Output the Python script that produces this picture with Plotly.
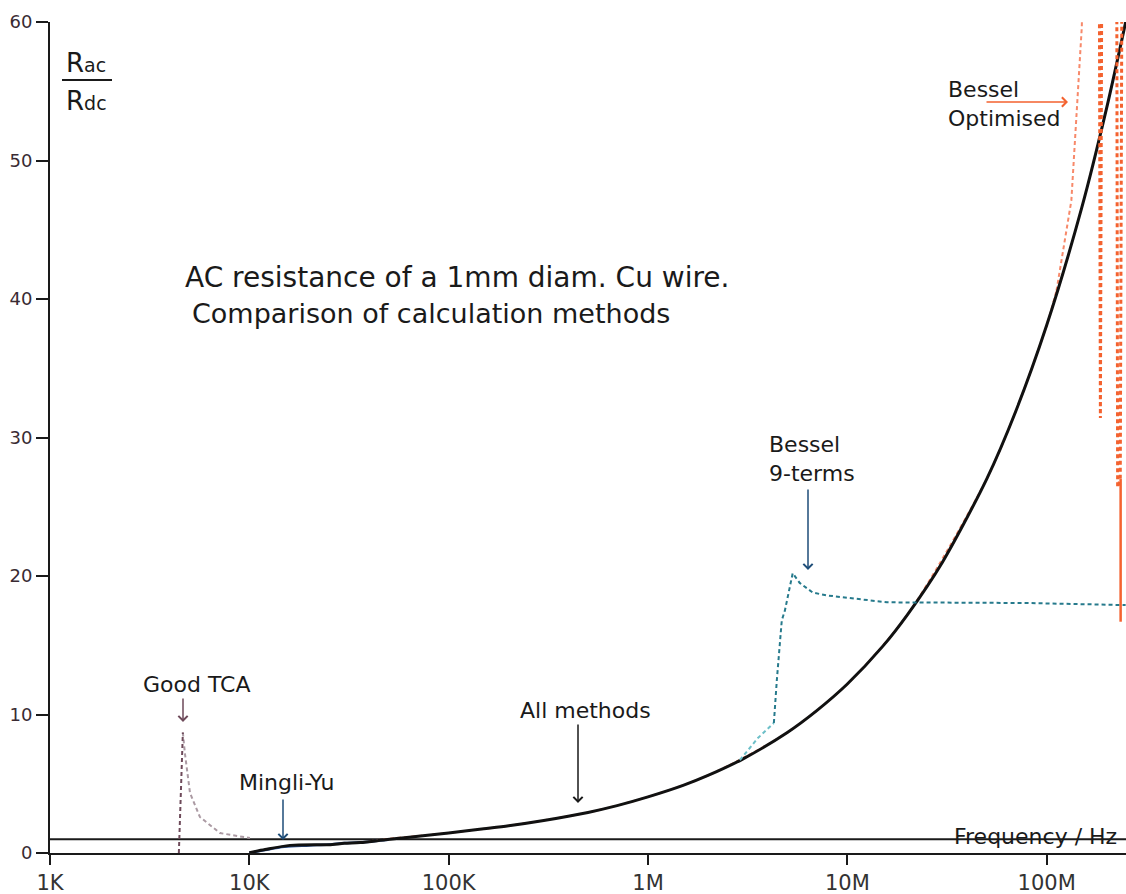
import plotly.graph_objects as go

# ---- data: frequency in Hz, resistance ratio Rac/Rdc ----
ref_freq = [1e3, 260e6]
ref_ratio = [1.0, 1.0]

exact_freq = [10e3, 12e3, 16e3, 25e3, 30e3, 36e3, 48e3, 60e3, 100e3, 150e3, 200e3, 300e3,
              500e3, 700e3, 1e6, 1.5e6, 2e6, 3e6, 5e6, 7e6, 10e6, 15e6, 20e6, 30e6,
              50e6, 70e6, 100e6, 150e6, 200e6, 250e6]
exact_ratio = [0.02, 0.25, 0.55, 0.6, 0.7, 0.75, 0.95, 1.1, 1.45, 1.75, 1.97, 2.35,
               2.93, 3.42, 4.05, 4.88, 5.6, 6.8, 8.7, 10.26, 12.2, 14.9, 17.2, 21.0,
               27.0, 31.9, 38.1, 46.6, 53.8, 60.1]

mingli_freq = [10e3, 12e3, 15e3, 20e3, 25e3, 30e3, 40e3, 50e3]
mingli_ratio = [0.0, 0.22, 0.45, 0.55, 0.62, 0.72, 0.82, 0.95]

tca_rise_freq = [4.43e3, 4.64e3]
tca_rise_ratio = [0.0, 8.7]
tca_decay_freq = [4.64e3, 4.75e3, 5.04e3, 5.65e3, 7.12e3, 10.07e3]
tca_decay_ratio = [8.7, 7.2, 4.33, 2.6, 1.44, 1.08]

b9_low_freq = [2.89e6, 3.56e6, 4.28e6]
b9_low_ratio = [6.71, 8.3, 9.39]
b9_freq = [4.28e6, 4.43e6, 4.69e6, 4.86e6, 5.32e6, 5.77e6, 6.71e6, 7.88e6, 15.8e6,
           79.4e6, 249e6]
b9_ratio = [9.39, 12.5, 16.8, 17.5, 20.2, 19.5, 18.8, 18.6, 18.1, 18.05, 17.9]

opt_freq = [40e3, 50e3, 100e3, 200e3, 500e3, 1e6, 2e6, 5e6, 10e6, 20e6, 50e6, 70e6,
            100e6, 112e6]
opt_ratio = [0.85, 1.02, 1.45, 1.97, 2.93, 4.05, 5.6, 8.7, 12.2, 17.2, 27.0, 31.9,
             38.1, 40.6]
opt_div_freq = [112e6, 133e6, 150e6, 160e6]
opt_div_ratio = [40.6, 47.1, 59.6, 75.0]
opt_osc_freq = [183e6, 186e6, 190e6, 224e6, 227e6, 234e6, 240e6]
opt_osc_ratio = [75.0, 31.4, 75.0, 75.0, 26.4, 27.0, 75.0]
opt_tail_freq = [235e6, 235e6]
opt_tail_ratio = [27.0, 16.7]

tick_vals = [1e3, 1e4, 1e5, 1e6, 1e7, 1e8]
tick_text = ["1K", "10K", "100K", "1M", "10M", "100M"]
y_ticks = [0, 10, 20, 30, 40, 50, 60]

FONT = "DejaVu Sans"
W, H = 1126, 894
ML, MR, MT, MB = 50, 0, 22, 41


def px(x):
    return (x - ML) / (W - ML - MR)


def py(y):
    return (H - MB - y) / (H - MT - MB)


DASH = "4px,3px"
fig = go.Figure()

fig.add_trace(go.Scatter(x=ref_freq, y=ref_ratio, mode="lines",
                         line=dict(color="#1a1a1a", width=2)))
fig.add_trace(go.Scatter(x=tca_decay_freq, y=tca_decay_ratio, mode="lines",
                         line=dict(color="#ab9aa3", width=2, dash=DASH)))
fig.add_trace(go.Scatter(x=tca_rise_freq, y=tca_rise_ratio, mode="lines",
                         line=dict(color="#6e4a5a", width=2, dash=DASH)))
fig.add_trace(go.Scatter(x=mingli_freq, y=mingli_ratio, mode="lines",
                         line=dict(color="#2f5597", width=2.5, shape="spline")))
fig.add_trace(go.Scatter(x=opt_freq, y=opt_ratio, mode="lines",
                         line=dict(color="#f7896a", width=2, dash=DASH,
                                   shape="spline", smoothing=0.8)))
fig.add_trace(go.Scatter(x=opt_div_freq, y=opt_div_ratio, mode="lines",
                         line=dict(color="#f7896a", width=2, dash=DASH)))
fig.add_trace(go.Scatter(x=exact_freq, y=exact_ratio, mode="lines",
                         line=dict(color="#111111", width=3, shape="spline", smoothing=0.8)))
fig.add_trace(go.Scatter(x=b9_low_freq, y=b9_low_ratio, mode="lines",
                         line=dict(color="#6cbfc8", width=2, dash=DASH)))
fig.add_trace(go.Scatter(x=b9_freq, y=b9_ratio, mode="lines",
                         line=dict(color="#267a8c", width=2, dash=DASH)))
fig.add_trace(go.Scatter(x=opt_osc_freq, y=opt_osc_ratio, mode="lines",
                         line=dict(color="#f4622f", width=3, dash=DASH)))
fig.add_trace(go.Scatter(x=opt_tail_freq, y=opt_tail_ratio, mode="lines",
                         line=dict(color="#f4622f", width=2.5)))

annotations = []


def label(text, x, y, size=22, xanchor="center", color="#1a1a1a", align="center"):
    annotations.append(dict(text=text, x=px(x), y=py(y), xref="paper", yref="paper",
                            xanchor=xanchor, yanchor="middle", showarrow=False,
                            align=align, font=dict(family=FONT, size=size, color=color)))


def arrow(tip_x, tip_y, tail_x, tail_y, color):
    annotations.append(dict(text="", x=px(tip_x), y=py(tip_y), xref="paper", yref="paper",
                            ax=tail_x - tip_x, ay=tail_y - tip_y, showarrow=True,
                            arrowhead=4, arrowsize=1.2, arrowwidth=1.5,
                            arrowcolor=color, standoff=0, startstandoff=0))


label("AC resistance of a 1mm diam. Cu wire.", 183, 277, size=28, xanchor="left")
label("Comparison of calculation methods", 190, 313, size=27, xanchor="left")

label("R<span style='font-size:19px'>ac</span>", 64, 63, size=26, xanchor="left")
label("R<span style='font-size:19px'>dc</span>", 64, 101, size=26, xanchor="left")

label("Good TCA", 197, 684)
label("Mingli-Yu", 286, 782)
label("All methods", 585, 710)
label("Bessel<br>9-terms", 767, 459, xanchor="left", align="left")
label("Bessel<br>Optimised", 946, 104, xanchor="left", align="left")
label("Frequency / Hz", 1035, 836)

arrow(183, 722, 183, 697, "#6e4a5a")
arrow(283, 840, 283, 798, "#1f4e79")
arrow(578, 803, 578, 723, "#1a1a1a")
arrow(808, 570, 808, 488, "#1f4e79")
arrow(1068, 102, 985, 102, "#f4622f")

fig.update_layout(
    width=W, height=H,
    margin=dict(l=ML, r=MR, t=MT, b=MB),
    paper_bgcolor="white", plot_bgcolor="white",
    showlegend=False,
    font=dict(family=FONT),
    annotations=annotations,
    shapes=[dict(type="line", xref="paper", yref="paper",
                 x0=px(62), x1=px(112), y0=py(80), y1=py(80),
                 line=dict(color="#1a1a1a", width=2))],
    xaxis=dict(type="log", range=[3, 8.398], showgrid=False, zeroline=False,
               showline=True, linecolor="#1a1a1a", linewidth=2,
               ticks="outside", ticklen=10, tickwidth=1.5, tickcolor="#1a1a1a",
               tickvals=tick_vals, ticktext=tick_text,
               tickfont=dict(family=FONT, size=21, color="#333333")),
    yaxis=dict(range=[0, 60], showgrid=False, zeroline=False,
               showline=True, linecolor="#1a1a1a", linewidth=2,
               ticks="outside", ticklen=12, tickwidth=1.5, tickcolor="#1a1a1a",
               tickvals=y_ticks,
               tickfont=dict(family=FONT, size=18, color="#3a2b33")),
)

fig.write_html("out.html")
